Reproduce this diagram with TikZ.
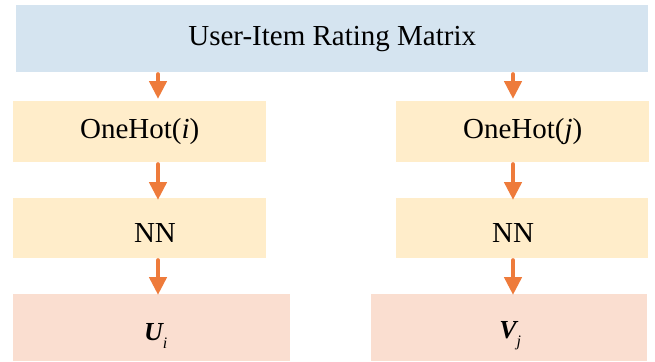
\documentclass[tikz,border=0pt]{standalone}
\usepackage{fontspec}
\setmainfont{Liberation Serif}
\usetikzlibrary{arrows.meta}
\definecolor{matrixblue}{HTML}{D5E4F0}
\definecolor{stageyellow}{HTML}{FFEDCA}
\definecolor{outpink}{HTML}{FADED0}
\definecolor{flow}{HTML}{EE7B3B}
\tikzset{
  blk/.style={draw=none, inner sep=0pt, anchor=north west,
    font=\fontsize{29}{32}\selectfont},
  lbl/.style={inner sep=0pt, font=\fontsize{29}{32}\selectfont},
  flowarrow/.style={draw=flow, line width=4.5pt, line cap=round,
    -{Triangle[width=17pt,length=18pt]}, shorten <=2pt, shorten >=2pt},
}
\newcommand{\vecsym}[2]{{\fontsize{26}{28}\selectfont\bfseries\itshape #1}\raisebox{-8pt}{\fontsize{16}{17}\selectfont\itshape #2}}
\begin{document}
\begin{tikzpicture}[x=1pt,y=-1pt]
  \useasboundingbox (0,0) rectangle (655,361);
  % input matrix
  \node[blk, fill=matrixblue, minimum width=632pt, minimum height=67pt] (top) at (16,5) {User-Item Rating Matrix};
  % user branch
  \node[blk, fill=stageyellow, minimum width=253pt, minimum height=61pt] (ohi) at (13,101) {OneHot(\textit{i})};
  \node[blk, fill=stageyellow, minimum width=253pt, minimum height=60pt] (nni) at (13,198) {};
  \node[blk, fill=outpink, minimum width=277pt, minimum height=67pt] (ui) at (13,294) {};
  % item branch
  \node[blk, fill=stageyellow, minimum width=253pt, minimum height=61pt] (ohj) at (396,101) {OneHot(\textit{j})};
  \node[blk, fill=stageyellow, minimum width=252pt, minimum height=60pt] (nnj) at (396,198) {};
  \node[blk, fill=outpink, minimum width=276pt, minimum height=67pt] (vj) at (371,294) {};
  % arrow columns and label column
  \coordinate (ax) at (158,0);
  \coordinate (bx) at (513,0);
  \coordinate (nx) at (155,0);
  % labels (yshift is in page direction: negative moves down)
  \node[lbl] (nnilbl) at ([yshift=-4.5pt]nni.center -| nx) {NN};
  \node[lbl] (nnjlbl) at ([yshift=-4.5pt]nnj.center -| bx) {NN};
  \node[inner sep=0pt] (uilbl) at ([xshift=4pt,yshift=-8pt]ui.center) {\vecsym{U}{i}};
  \node[inner sep=0pt] (vjlbl) at ([xshift=1pt,yshift=-8pt]vj.center) {\vecsym{V}{j}};
  % flow
  \draw[flowarrow] (top.south -| ax) -- (ohi.north -| ax);
  \draw[flowarrow] (ohi.south -| ax) -- ([yshift=-4pt]nni.north -| ax);
  \draw[flowarrow] (nni.south -| ax) -- ([yshift=-3pt]ui.north -| ax);
  \draw[flowarrow] (top.south -| bx) -- (ohj.north -| bx);
  \draw[flowarrow] (ohj.south -| bx) -- ([yshift=-4pt]nnj.north -| bx);
  \draw[flowarrow] (nnj.south -| bx) -- ([yshift=-3pt]vj.north -| bx);
\end{tikzpicture}
\end{document}
